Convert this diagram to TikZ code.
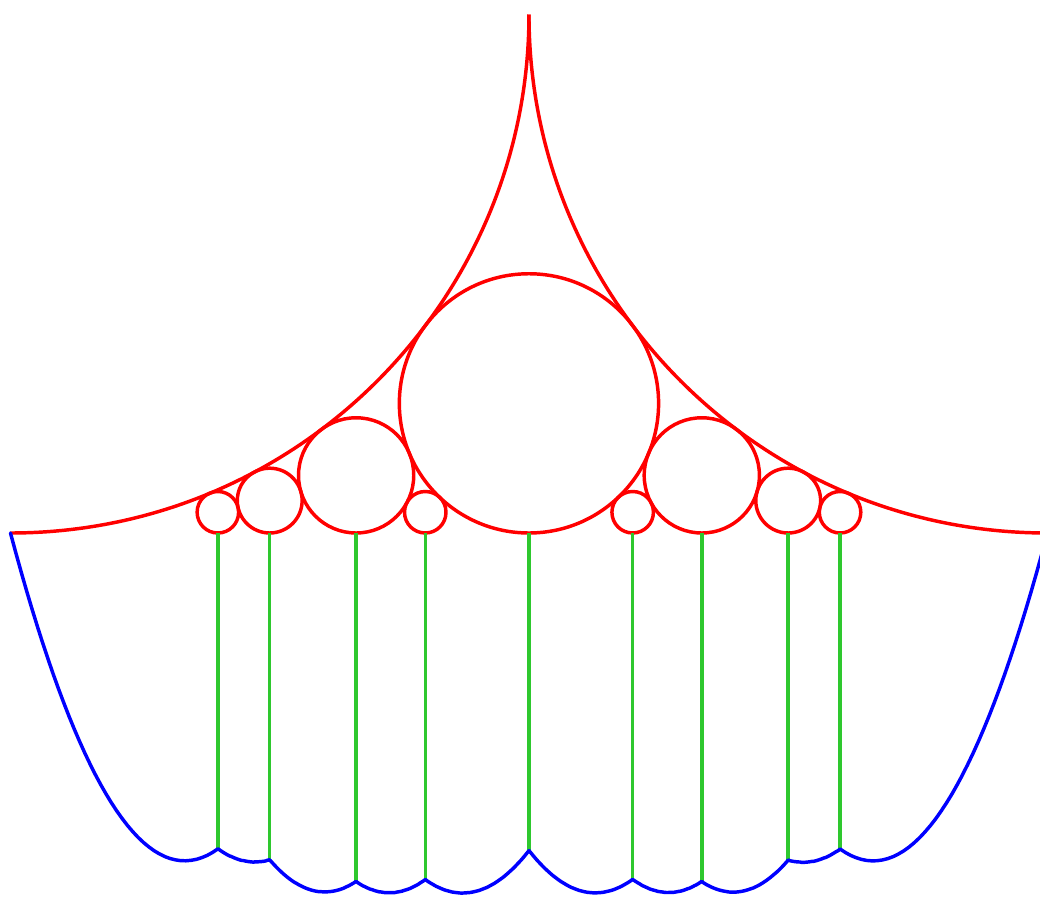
\documentclass[tikz,border=0pt]{standalone}
\usepackage{tikz}
\usetikzlibrary{calc}
\definecolor{fordred}{HTML}{FF0000}
\definecolor{fordblue}{HTML}{0000FF}
\definecolor{fordgreen}{HTML}{2EC82E}

% one arch of the lower curve: x1, depth1, x2, depth2, bend
\newcommand{\arch}[5]{\draw[trace] plot[domain=#1:#3, samples=40] (\x, {-(#2+(#4-#2)*(\x-#1)/(#3-#1)+#5*(\x-#1)*(#3-\x))});}

\begin{document}
\begin{tikzpicture}[x=10cm, y=10cm,
    ford/.style={draw=fordred, line width=0.95pt},
    stem/.style={draw=fordgreen, line width=0.95pt},
    trace/.style={draw=fordblue, line width=0.95pt, line cap=round, line join=round},
]
\useasboundingbox (-0.0101,-0.3520) rectangle (0.9928,0.5140);

% outer arcs
\draw[ford] (0,0) arc[start angle=-90, end angle=0, radius=0.5];
\draw[ford] (1,0) arc[start angle=270, end angle=180, radius=0.5];

% circles and stems
\foreach \n/\xa/\r/\d in {a/0.2/0.02/0.3047, b/0.25/0.03125/0.3153, c/0.33333/0.05556/0.3361,
    d/0.4/0.02/0.3341, e/0.5/0.125/0.3062, f/0.6/0.02/0.3341,
    g/0.66667/0.05556/0.3361, h/0.75/0.03125/0.3153, i/0.8/0.02/0.3047}{
  \draw[ford] (\xa,\r) circle[radius=\r];
  \coordinate (top-\n) at (\xa,0);
  \coordinate (foot-\n) at (\xa,-\d);
  \draw[stem] (top-\n) -- (foot-\n);
}

% lower curve
\arch{0}{0}{0.2}{0.3047}{11.2}
\arch{0.2}{0.3047}{0.25}{0.3153}{10}
\arch{0.25}{0.3153}{0.33333}{0.3361}{11}
\arch{0.33333}{0.3361}{0.4}{0.3341}{10.5}
\arch{0.4}{0.3341}{0.5}{0.3062}{10}
\arch{0.5}{0.3062}{0.6}{0.3341}{10}
\arch{0.6}{0.3341}{0.66667}{0.3361}{10.5}
\arch{0.66667}{0.3361}{0.75}{0.3153}{11}
\arch{0.75}{0.3153}{0.8}{0.3047}{10}
\arch{0.8}{0.3047}{1}{0}{11.2}

\end{tikzpicture}
\end{document}
